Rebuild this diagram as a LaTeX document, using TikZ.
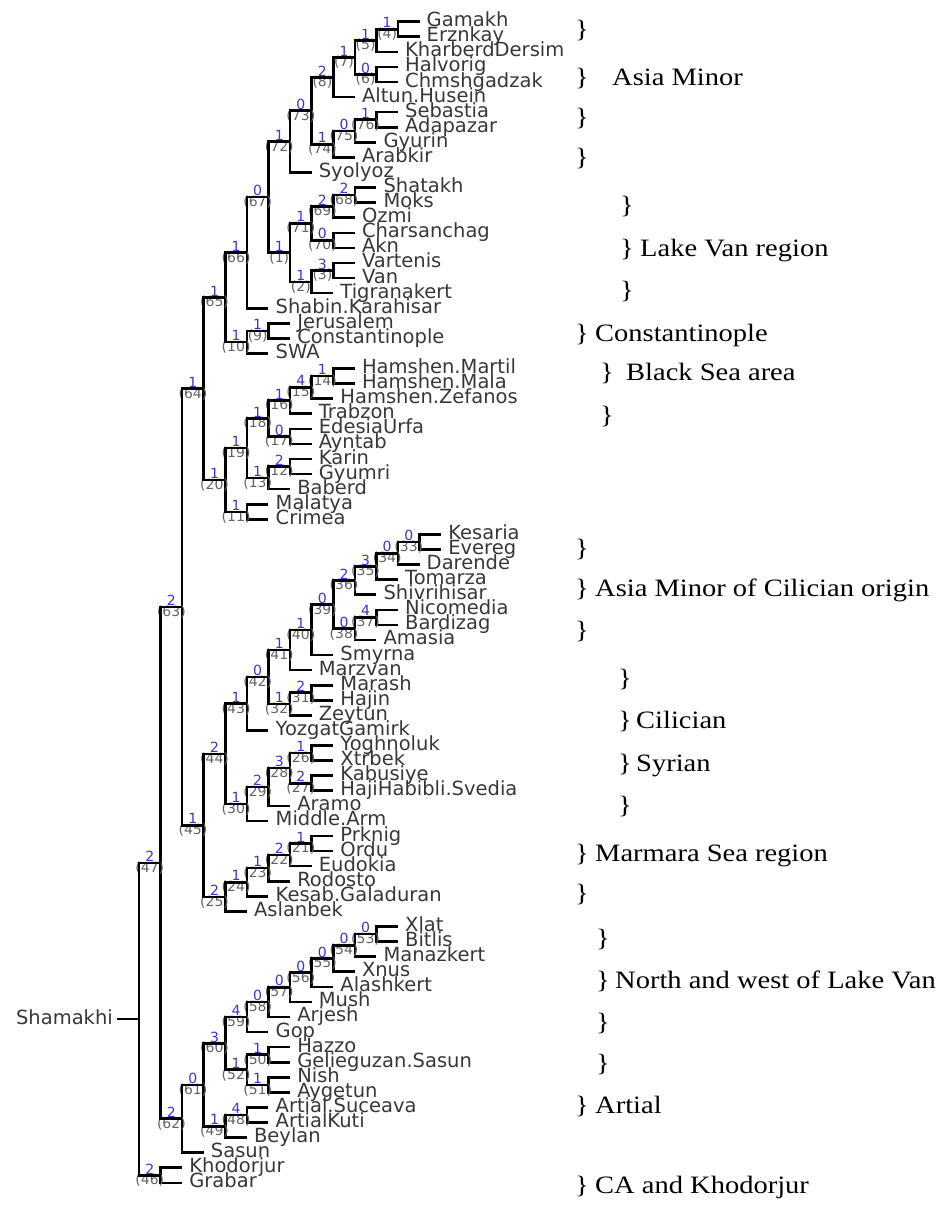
\documentclass[tikz,border=0pt]{standalone}
\usepackage{fontspec}
\usetikzlibrary{calc}
\newfontfamily\treefont{DejaVu Sans}
\newfontfamily\notefont[FakeStretch=1.14]{Liberation Serif}
\definecolor{labelgrey}{RGB}{55,55,55}
\definecolor{supportblue}{RGB}{55,55,215}
\definecolor{cladegrey}{RGB}{100,100,100}

% layout of the cladogram: column width per depth level, row height per leaf
\newcommand\rootx{139}
\newcommand\colw{21.58}
\newcommand\firsty{21.7}
\newcommand\rowh{15.08}

% leaf: name, row, depth, printed label
\newcommand\leaf[4]{%
  \coordinate (#1) at ({\rootx+#3*\colw},{\firsty+(#2-1)*\rowh});
  \node[leaflabel] (#1-t) at ($(#1)+(7,5)$) {#4};
}
% clade: name, depth, first child, last child, support value, clade number
\newcommand\clade[6]{%
  \path let \p1=(#3), \p2=(#4) in
    coordinate (#1) at ({(\rootx+#2*\colw)*1pt},{0.5*(\y1)+0.5*(\y2)});
  \draw[branch] (#3) -| (#1) |- (#4);
  \node[support] (#1-s) at ($(#1)+({-\colw/2},-6.5)$) {#5};
  \node[cladeno] (#1-n) at ($(#1)+({-\colw/2},5)$) {(#6)};
}

\tikzset{
  branch/.style={line width=2.6pt, black},
  leaflabel/.style={font=\treefont\fontsize{19.5}{19.5}\selectfont, text=labelgrey,
    anchor=base west, inner sep=0pt},
  support/.style={font=\treefont\fontsize{14}{14}\selectfont, text=supportblue,
    inner sep=0pt},
  cladeno/.style={font=\treefont\fontsize{14}{14}\selectfont, text=cladegrey,
    inner sep=0pt},
  note/.style={font=\notefont\fontsize{25}{25}\selectfont, text=black,
    anchor=base west, inner sep=0pt}
}

\begin{document}
\begin{tikzpicture}[x=1pt,y=-1pt]
\useasboundingbox (0,0) rectangle (947,1209);

% ---- leaves ----
\leaf{Gamakh}{1}{13}{Gamakh}
\leaf{Erznkay}{2}{13}{Erznkay}
\leaf{KharberdDersim}{3}{12}{KharberdDersim}
\leaf{Halvorig}{4}{12}{Halvorig}
\leaf{Chmshgadzak}{5}{12}{Chmshgadzak}
\leaf{AltunHusein}{6}{10}{Altun.Husein}
\leaf{Sebastia}{7}{12}{Sebastia}
\leaf{Adapazar}{8}{12}{Adapazar}
\leaf{Gyurin}{9}{11}{Gyurin}
\leaf{Arabkir}{10}{10}{Arabkir}
\leaf{Syolyoz}{11}{8}{Syolyoz}
\leaf{Shatakh}{12}{11}{Shatakh}
\leaf{Moks}{13}{11}{Moks}
\leaf{Ozmi}{14}{10}{Ozmi}
\leaf{Charsanchag}{15}{10}{Charsanchag}
\leaf{Akn}{16}{10}{Akn}
\leaf{Vartenis}{17}{10}{Vartenis}
\leaf{Van}{18}{10}{Van}
\leaf{Tigranakert}{19}{9}{Tigranakert}
\leaf{ShabinKarahisar}{20}{6}{Shabin.Karahisar}
\leaf{Jerusalem}{21}{7}{Jerusalem}
\leaf{Constantinople}{22}{7}{Constantinople}
\leaf{SWA}{23}{6}{SWA}
\leaf{HamshenMartil}{24}{10}{Hamshen.Martil}
\leaf{HamshenMala}{25}{10}{Hamshen.Mala}
\leaf{HamshenZefanos}{26}{9}{Hamshen.Zefanos}
\leaf{Trabzon}{27}{8}{Trabzon}
\leaf{EdesiaUrfa}{28}{8}{EdesiaUrfa}
\leaf{Ayntab}{29}{8}{Ayntab}
\leaf{Karin}{30}{8}{Karin}
\leaf{Gyumri}{31}{8}{Gyumri}
\leaf{Baberd}{32}{7}{Baberd}
\leaf{Malatya}{33}{6}{Malatya}
\leaf{Crimea}{34}{6}{Crimea}
\leaf{Kesaria}{35}{14}{Kesaria}
\leaf{Evereg}{36}{14}{Evereg}
\leaf{Darende}{37}{13}{Darende}
\leaf{Tomarza}{38}{12}{Tomarza}
\leaf{Shivrihisar}{39}{11}{Shivrihisar}
\leaf{Nicomedia}{40}{12}{Nicomedia}
\leaf{Bardizag}{41}{12}{Bardizag}
\leaf{Amasia}{42}{11}{Amasia}
\leaf{Smyrna}{43}{9}{Smyrna}
\leaf{Marzvan}{44}{8}{Marzvan}
\leaf{Marash}{45}{9}{Marash}
\leaf{Hajin}{46}{9}{Hajin}
\leaf{Zeytun}{47}{8}{Zeytun}
\leaf{YozgatGamirk}{48}{6}{YozgatGamirk}
\leaf{Yoghnoluk}{49}{9}{Yoghnoluk}
\leaf{Xtrbek}{50}{9}{Xtrbek}
\leaf{Kabusiye}{51}{9}{Kabusiye}
\leaf{HajiHabibli}{52}{9}{HajiHabibli.Svedia}
\leaf{Aramo}{53}{7}{Aramo}
\leaf{MiddleArm}{54}{6}{Middle.Arm}
\leaf{Prknig}{55}{9}{Prknig}
\leaf{Ordu}{56}{9}{Ordu}
\leaf{Eudokia}{57}{8}{Eudokia}
\leaf{Rodosto}{58}{7}{Rodosto}
\leaf{KesabGaladuran}{59}{6}{Kesab.Galaduran}
\leaf{Aslanbek}{60}{5}{Aslanbek}
\leaf{Xlat}{61}{12}{Xlat}
\leaf{Bitlis}{62}{12}{Bitlis}
\leaf{Manazkert}{63}{11}{Manazkert}
\leaf{Xnus}{64}{10}{Xnus}
\leaf{Alashkert}{65}{9}{Alashkert}
\leaf{Mush}{66}{8}{Mush}
\leaf{Arjesh}{67}{7}{Arjesh}
\leaf{Gop}{68}{6}{Gop}
\leaf{Hazzo}{69}{7}{Hazzo}
\leaf{Gelieguzan}{70}{7}{Gelieguzan.Sasun}
\leaf{Nish}{71}{7}{Nish}
\leaf{Aygetun}{72}{7}{Aygetun}
\leaf{ArtialSuceava}{73}{6}{Artial.Suceava}
\leaf{ArtialKuti}{74}{6}{ArtialKuti}
\leaf{Beylan}{75}{5}{Beylan}
\leaf{Sasun}{76}{3}{Sasun}
\leaf{Khodorjur}{77}{2}{Khodorjur}
\leaf{Grabar}{78}{2}{Grabar}

% ---- clades, children before parents ----
\clade{n4}{12}{Gamakh}{Erznkay}{1}{4}
\clade{n5}{11}{n4}{KharberdDersim}{1}{5}
\clade{n6}{11}{Halvorig}{Chmshgadzak}{0}{6}
\clade{n7}{10}{n5}{n6}{1}{7}
\clade{n8}{9}{n7}{AltunHusein}{2}{8}
\clade{n76}{11}{Sebastia}{Adapazar}{1}{76}
\clade{n75}{10}{n76}{Gyurin}{0}{75}
\clade{n74}{9}{n75}{Arabkir}{1}{74}
\clade{n73}{8}{n8}{n74}{0}{73}
\clade{n72}{7}{n73}{Syolyoz}{1}{72}
\clade{n68}{10}{Shatakh}{Moks}{2}{68}
\clade{n69}{9}{n68}{Ozmi}{2}{69}
\clade{n70}{9}{Charsanchag}{Akn}{0}{70}
\clade{n71}{8}{n69}{n70}{1}{71}
\clade{n3}{9}{Vartenis}{Van}{3}{3}
\clade{n2}{8}{n3}{Tigranakert}{1}{2}
\clade{n1}{7}{n71}{n2}{1}{1}
\clade{n67}{6}{n72}{n1}{0}{67}
\clade{n66}{5}{n67}{ShabinKarahisar}{1}{66}
\clade{n9}{6}{Jerusalem}{Constantinople}{1}{9}
\clade{n10}{5}{n9}{SWA}{1}{10}
\clade{n65}{4}{n66}{n10}{1}{65}
\clade{n14}{9}{HamshenMartil}{HamshenMala}{1}{14}
\clade{n15}{8}{n14}{HamshenZefanos}{4}{15}
\clade{n16}{7}{n15}{Trabzon}{1}{16}
\clade{n17}{7}{EdesiaUrfa}{Ayntab}{0}{17}
\clade{n18}{6}{n16}{n17}{1}{18}
\clade{n12}{7}{Karin}{Gyumri}{2}{12}
\clade{n13}{6}{n12}{Baberd}{1}{13}
\clade{n19}{5}{n18}{n13}{1}{19}
\clade{n11}{5}{Malatya}{Crimea}{1}{11}
\clade{n20}{4}{n19}{n11}{1}{20}
\clade{n64}{3}{n65}{n20}{1}{64}

\clade{n33}{13}{Kesaria}{Evereg}{0}{33}
\clade{n34}{12}{n33}{Darende}{0}{34}
\clade{n35}{11}{n34}{Tomarza}{3}{35}
\clade{n36}{10}{n35}{Shivrihisar}{2}{36}
\clade{n37}{11}{Nicomedia}{Bardizag}{4}{37}
\clade{n38}{10}{n37}{Amasia}{0}{38}
\clade{n39}{9}{n36}{n38}{0}{39}
\clade{n40}{8}{n39}{Smyrna}{1}{40}
\clade{n41}{7}{n40}{Marzvan}{1}{41}
\clade{n31}{8}{Marash}{Hajin}{2}{31}
\clade{n32}{7}{n31}{Zeytun}{1}{32}
\clade{n42}{6}{n41}{n32}{0}{42}
\clade{n43}{5}{n42}{YozgatGamirk}{1}{43}
\clade{n26}{8}{Yoghnoluk}{Xtrbek}{1}{26}
\clade{n27}{8}{Kabusiye}{HajiHabibli}{2}{27}
\clade{n28}{7}{n26}{n27}{3}{28}
\clade{n29}{6}{n28}{Aramo}{2}{29}
\clade{n30}{5}{n29}{MiddleArm}{1}{30}
\clade{n44}{4}{n43}{n30}{2}{44}
\clade{n21}{8}{Prknig}{Ordu}{1}{21}
\clade{n22}{7}{n21}{Eudokia}{2}{22}
\clade{n23}{6}{n22}{Rodosto}{1}{23}
\clade{n24}{5}{n23}{KesabGaladuran}{1}{24}
\clade{n25}{4}{n24}{Aslanbek}{2}{25}
\clade{n45}{3}{n44}{n25}{1}{45}
\clade{n63}{2}{n64}{n45}{2}{63}

\clade{n53}{11}{Xlat}{Bitlis}{0}{53}
\clade{n54}{10}{n53}{Manazkert}{0}{54}
\clade{n55}{9}{n54}{Xnus}{0}{55}
\clade{n56}{8}{n55}{Alashkert}{0}{56}
\clade{n57}{7}{n56}{Mush}{0}{57}
\clade{n58}{6}{n57}{Arjesh}{0}{58}
\clade{n59}{5}{n58}{Gop}{4}{59}
\clade{n50}{6}{Hazzo}{Gelieguzan}{1}{50}
\clade{n51}{6}{Nish}{Aygetun}{1}{51}
\clade{n52}{5}{n50}{n51}{1}{52}
\clade{n60}{4}{n59}{n52}{3}{60}
\clade{n48}{5}{ArtialSuceava}{ArtialKuti}{4}{48}
\clade{n49}{4}{n48}{Beylan}{1}{49}
\clade{n61}{3}{n60}{n49}{0}{61}
\clade{n62}{2}{n61}{Sasun}{2}{62}
\clade{n47}{1}{n63}{n62}{2}{47}
\clade{n46}{1}{Khodorjur}{Grabar}{2}{46}

% ---- root with the Shamakhi stub ----
\path let \p1=(n47), \p2=(n46) in
  coordinate (root) at ({\rootx*1pt},{0.5*(\y1)+0.5*(\y2)});
\draw[branch] (n47) -| (root) |- (n46);
\coordinate (stub) at ($(root)+(-22,0)$);
\draw[branch] (stub) -- (root);
\node[leaflabel, anchor=base east] (Shamakhi) at ($(stub)+(-4,5)$) {Shamakhi};

% ---- regional groupings on the right ----
\node[note] (g1) at (575,38) {\}};
\node[note] (g2) at (575,86) {\}};
\node[note] (g2t) at (612,86) {Asia Minor};
\node[note] (g3) at (575,126) {\}};
\node[note] (g4) at (575,166) {\}};
\node[note] (g5) at (620,213) {\}};
\node[note] (g6) at (620,256) {\}};
\node[note] (g6t) at (640,256) {Lake Van region};
\node[note] (g7) at (620,298) {\}};
\node[note] (g8) at (575,341) {\}};
\node[note] (g8t) at (595,341) {Constantinople};
\node[note] (g9) at (600,380) {\}};
\node[note] (g9t) at (626,380) {Black Sea area};
\node[note] (g10) at (600,423) {\}};
\node[note] (g11) at (575,556) {\}};
\node[note] (g12) at (575,596) {\}};
\node[note] (g12t) at (595,596) {Asia Minor of Cilician origin};
\node[note] (g13) at (575,638) {\}};
\node[note] (g14) at (618,686) {\}};
\node[note] (g15) at (618,728) {\}};
\node[note] (g15t) at (636,728) {Cilician};
\node[note] (g16) at (618,771) {\}};
\node[note] (g16t) at (636,771) {Syrian};
\node[note] (g17) at (618,813) {\}};
\node[note] (g18) at (575,861) {\}};
\node[note] (g18t) at (595,861) {Marmara Sea region};
\node[note] (g19) at (575,901) {\}};
\node[note] (g20) at (596,946) {\}};
\node[note] (g21) at (596,988) {\}};
\node[note] (g21t) at (615,988) {North and west of Lake Van};
\node[note] (g22) at (596,1030) {\}};
\node[note] (g23) at (596,1071) {\}};
\node[note] (g24) at (575,1113) {\}};
\node[note] (g24t) at (595,1113) {Artial};
\node[note] (g25) at (575,1193) {\}};
\node[note] (g25t) at (595,1193) {CA and Khodorjur};
\end{tikzpicture}
\end{document}
